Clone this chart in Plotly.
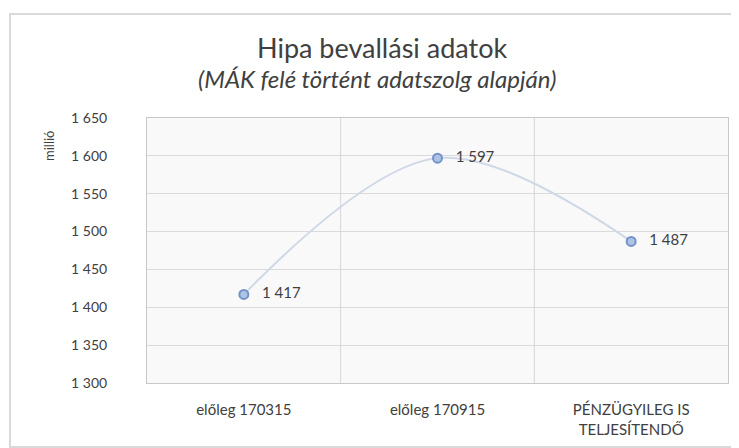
import plotly.graph_objects as go

categories = ["előleg 170315", "előleg 170915", "PÉNZÜGYILEG IS<br>TELJESÍTENDŐ"]
values = [1417, 1597, 1487]
y_ticks = [1300, 1350, 1400, 1450, 1500, 1550, 1600, 1650]
y_tick_labels = [f"{v:,}".replace(",", " ") for v in y_ticks]
point_labels = ["   " + f"{v:,}".replace(",", " ") for v in values]

# page offset of the figure (browser body margin)
OFF = 8
W, H = 739 - OFF, 448 - OFF
# plot area in page pixels
L, R, T, B = 147, 728, 118, 383
pw, ph = R - L, B - T

def px(x):
    return (x - L) / pw

def py(y):
    return (B - y) / ph

FONT = "Lato"

fig = go.Figure()
fig.add_trace(go.Scatter(
    x=categories, y=values,
    mode="lines+markers+text",
    line=dict(shape="spline", color="#cfd8e6", width=2),
    marker=dict(symbol="circle", size=9, color="#aec2e4",
                line=dict(color="#7293c9", width=2)),
    text=point_labels, textposition="middle right",
    textfont=dict(family=FONT, size=15, color="#404040"),
    cliponaxis=False, showlegend=False, hoverinfo="skip",
))

fig.update_layout(
    width=W, height=H,
    margin=dict(l=L - OFF, r=W - (R - OFF), t=T - OFF, b=H - (B - OFF), pad=0),
    paper_bgcolor="white",
    plot_bgcolor="#f9f9f9",
    font=dict(family=FONT, color="#404040"),
    xaxis=dict(
        type="category", range=[-0.5, 2.5],
        showgrid=False, zeroline=False,
        showline=True, linecolor="#c8c8c8", mirror=True,
        tickfont=dict(family=FONT, size=15, color="#404040"),
        ticks="", ticklabelstandoff=13,
    ),
    yaxis=dict(
        range=[1300, 1650], tickvals=y_ticks, ticktext=y_tick_labels,
        showgrid=True, gridcolor="#dadada", gridwidth=1,
        zeroline=False, showline=True, linecolor="#c8c8c8", mirror=True,
        tickfont=dict(family=FONT, size=14, color="#404040"),
        ticks="", ticklabelstandoff=36,
    ),
    shapes=[
        dict(type="line", xref="x", yref="paper", x0=0.5, x1=0.5, y0=0, y1=1,
             line=dict(color="#d6d6d6", width=1)),
        dict(type="line", xref="x", yref="paper", x0=1.5, x1=1.5, y0=0, y1=1,
             line=dict(color="#d6d6d6", width=1)),
        dict(type="rect", xref="paper", yref="paper",
             x0=px(10), x1=px(760), y0=py(447), y1=py(14),
             line=dict(color="#d9d9d9", width=2), layer="below"),
    ],
    annotations=[
        dict(text="Hipa bevallási adatok", xref="paper", yref="paper",
             x=px(382), y=py(47), xanchor="center", yanchor="middle", showarrow=False,
             font=dict(family=FONT, size=27, color="#404040")),
        dict(text="<i>(MÁK felé történt adatszolg alapján)</i>", xref="paper", yref="paper",
             x=px(377), y=py(78), xanchor="center", yanchor="middle", showarrow=False,
             font=dict(family=FONT, size=24, color="#404040")),
        dict(text="millió", xref="paper", yref="paper",
             x=px(49), y=py(146), xanchor="center", yanchor="middle", showarrow=False,
             textangle=-90,
             font=dict(family=FONT, size=13, color="#404040")),
    ],
)

fig.write_html("out.html")
